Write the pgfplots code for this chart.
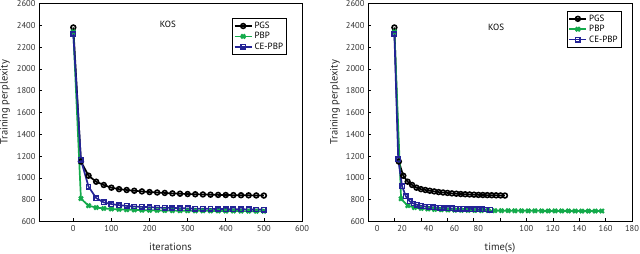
\documentclass[border=0pt]{standalone}
\usepackage{pgfplots}
\pgfplotsset{compat=1.18}
\usepackage{fontspec}
\setmainfont{PT Sans}
\definecolor{pgreen}{RGB}{20,170,75}
\definecolor{pblue}{RGB}{35,35,150}

\pgfplotsset{
 kosstyle/.style={
  scale only axis, height=218pt, ymin=600, ymax=2600, ytick={600,800,...,2600},
  tick align=inside, xtick pos=bottom, ytick pos=left, major tick length=3pt,
  axis line style={line width=0.8pt},
  tick style={black, line width=0.6pt},
  /pgf/number format/assume math mode=true,
  /pgf/number format/1000 sep={},
  ticklabel style={font=\fontsize{8.5}{10}\selectfont, text=black!80},
  label style={font=\fontsize{10.5}{12}\selectfont, text=black!85},
  legend style={font=\fontsize{9}{10}\selectfont, draw=black, line width=0.9pt, inner sep=1.5pt, row sep=-1.5pt},
  legend cell align=left,
 },
 pgs/.style={black, line width=1.7pt, mark=o, mark size=2.4pt, mark options={line width=1.6pt, fill=white}},
 pbp/.style={pgreen, line width=1.7pt, mark=x, mark size=2.8pt, mark options={line width=2.2pt}},
 cepbp/.style={pblue, line width=1.7pt, mark=square, mark size=2.2pt, mark options={line width=1.5pt, fill=white}},
}

\begin{document}
\begin{tikzpicture}[x=1pt,y=1pt]
% ---------------- left panel ----------------
\begin{axis}[kosstyle, at={(39pt,32.5pt)}, anchor=south west, width=263pt,
  xmin=-90, xmax=600, xtick={0,100,...,600},
  xlabel={iterations}, ylabel={Training perplexity},
  xlabel style={at={(axis description cs:0.5,-0.117)}, anchor=center},
  ylabel style={at={(axis description cs:-0.129,0.548)}, anchor=center},
  legend style={at={(0.943,0.933)}, anchor=north east},
]
\addplot[pgs] coordinates {
(0,2380) (20,1150) (40,1020) (60,965) (80,935) (100,910) (120,897) (140,889)
(160,882) (180,876) (200,870) (220,866) (240,862) (260,858) (280,855) (300,852)
(320,850) (340,848) (360,846) (380,844) (400,843) (420,842) (440,841) (460,840)
(480,839) (500,838)};
\addplot[pbp] coordinates {
(0,2340) (20,810) (40,745) (60,728) (80,720) (100,715) (120,711) (140,708)
(160,706) (180,704) (200,703) (220,702) (240,701) (260,700) (280,699) (300,699)
(320,698) (340,698) (360,697) (380,697) (400,696) (420,696) (440,695) (460,695)
(480,694) (500,694)};
\addplot[cepbp] coordinates {
(0,2320) (20,1165) (40,920) (60,815) (80,775) (100,760) (120,750) (140,743)
(160,738) (180,734) (200,731) (220,728) (240,726) (260,724) (280,722) (300,720)
(320,718) (340,717) (360,716) (380,715) (400,714) (420,713) (440,712) (460,711)
(480,710) (500,709)};
\legend{PGS,PBP,CE-PBP}
\node[font=\fontsize{9}{10}\selectfont] at (axis description cs:0.49,0.906) {KOS};
\end{axis}
% ---------------- right panel ----------------
\begin{axis}[kosstyle, at={(368pt,32.5pt)}, anchor=south west, width=264pt,
  xmin=-20, xmax=180, xtick={0,20,...,180},
  xticklabels={,,,,,100,120,140,160,180},
  extra x ticks={-13,5.8,25.9,45.5,63.6},
  extra x tick labels={0,20,40,60,80},
  extra x tick style={major tick length=0pt},
  xlabel={time(s)}, ylabel={Training perplexity},
  xlabel style={at={(axis description cs:0.5,-0.12)}, anchor=center},
  ylabel style={at={(axis description cs:-0.125,0.548)}, anchor=center},
  legend style={at={(0.961,0.966)}, anchor=north east},
]
\addplot[pgs] coordinates {
(0,2380) (3.35,1150) (6.7,1020) (10.05,965) (13.4,935) (16.75,910) (20.1,897)
(23.45,889) (26.8,882) (30.15,876) (33.5,870) (36.85,866) (40.2,862) (43.55,858)
(46.9,855) (50.25,852) (53.6,850) (56.95,848) (60.3,846) (63.65,844) (67,843)
(70.35,842) (73.7,841) (77.05,840) (80.4,839) (83.75,838)};
\addplot[pbp] coordinates {
(0,2340) (5.07,808) (10.14,745) (15.21,728) (20.28,720) (25.35,715) (30.42,711)
(35.49,708) (40.56,706) (45.63,704) (50.7,703) (55.77,702) (60.84,701) (65.91,700)
(70.98,700) (76.05,699) (81.12,699) (86.19,699) (91.26,698) (96.33,698) (101.4,698)
(106.47,698) (111.54,697) (116.61,697) (121.68,697) (126.75,697) (131.82,697)
(136.89,696) (141.96,696) (147.03,696) (152.1,696) (157.17,696)};
\addplot[cepbp] coordinates {
(0,2320) (2.9,1170) (5.8,925) (8.7,830) (11.6,785) (14.5,765) (17.4,752) (20.3,744)
(23.2,738) (26.1,734) (29,731) (31.9,728) (34.8,726) (37.7,724) (40.6,722) (43.5,720)
(46.4,718) (49.3,717) (52.2,716) (55.1,715) (58,714) (60.9,713) (63.8,712) (66.7,711)
(69.6,710) (72.5,709)};
\legend{PGS,PBP,CE-PBP}
\node[font=\fontsize{9}{10}\selectfont] at (axis description cs:0.485,0.892) {KOS};
\end{axis}
\pgfresetboundingbox
\path[use as bounding box] (0pt,0pt) rectangle (640pt,254pt);
\end{tikzpicture}
\end{document}
